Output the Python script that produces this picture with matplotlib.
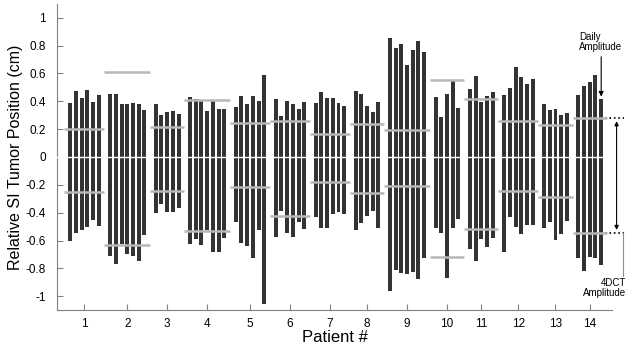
import matplotlib
matplotlib.use("Agg")
import matplotlib.pyplot as plt
import numpy as np

plt.rcParams['font.family'] = ['Liberation Sans', 'DejaVu Sans']

patients = list(range(1, 15))
daily_max = [
    [0.387, 0.474, 0.426, 0.484, 0.395, 0.445],
    [0.450, 0.450, 0.378, 0.383, 0.390, 0.383, 0.339],
    [0.383, 0.301, 0.323, 0.330, 0.306],
    [0.433, 0.414, 0.402, 0.330, 0.402, 0.347, 0.347],
    [0.359, 0.436, 0.378, 0.436, 0.402, 0.587],
    [0.416, 0.294, 0.402, 0.383, 0.347, 0.397],
    [0.387, 0.469, 0.426, 0.426, 0.387, 0.366],
    [0.474, 0.452, 0.366, 0.323, 0.397],
    [0.852, 0.785, 0.811, 0.664, 0.768, 0.835, 0.751],
    [0.433, 0.286, 0.452, 0.549, 0.354],
    [0.491, 0.585, 0.395, 0.436, 0.464],
    [0.448, 0.496, 0.645, 0.573, 0.522, 0.558],
    [0.383, 0.339, 0.342, 0.301, 0.313],
    [0.448, 0.510, 0.542, 0.592, 0.414],
]
daily_min = [
    [-0.606, -0.544, -0.527, -0.505, -0.455, -0.496],
    [-0.712, -0.770, -0.626, -0.698, -0.712, -0.746, -0.561],
    [-0.404, -0.337, -0.397, -0.392, -0.363],
    [-0.628, -0.587, -0.633, -0.525, -0.686, -0.684, -0.582],
    [-0.469, -0.616, -0.640, -0.724, -0.525, -1.059],
    [-0.578, -0.390, -0.549, -0.573, -0.469, -0.517],
    [-0.431, -0.508, -0.513, -0.412, -0.397, -0.409],
    [-0.525, -0.472, -0.424, -0.385, -0.513],
    [-0.965, -0.809, -0.833, -0.838, -0.826, -0.874, -0.729],
    [-0.513, -0.544, -0.869, -0.513, -0.445],
    [-0.659, -0.749, -0.592, -0.650, -0.580],
    [-0.686, -0.428, -0.501, -0.554, -0.489, -0.489],
    [-0.513, -0.469, -0.597, -0.554, -0.457],
    [-0.724, -0.818, -0.717, -0.724, -0.773],
]
ct_max = [0.200, 0.611, 0.214, 0.409, 0.241, 0.258, 0.166, 0.236, 0.197, 0.556, 0.414, 0.258, 0.231, 0.277]
ct_min = [-0.250, -0.633, -0.243, -0.529, -0.214, -0.424, -0.183, -0.258, -0.207, -0.722, -0.515, -0.243, -0.286, -0.544]

fig = plt.figure(figsize=(6.38, 3.52), dpi=100)
ax = fig.add_axes([0.0893, 0.119, 0.870, 0.870])

bar_color = '#333333'
ct_color = '#b8b8b8'
spine_color = '#808080'

centers = []
pos = 1
for i, p in enumerate(patients):
    n = len(daily_max[i])
    xs = np.arange(pos, pos + n)
    tops = np.array(daily_max[i])
    bots = np.array(daily_min[i])
    ax.bar(xs, tops - bots, bottom=bots, width=0.7, color=bar_color, zorder=2)
    ax.hlines([ct_max[i], ct_min[i]], xs[0] - 1, xs[-1] + 1, color=ct_color, lw=1.8, zorder=3)
    centers.append(xs.mean())
    last_x = xs[-1]
    pos += n + 1

ax.axhline(0, color='white', lw=1.0, zorder=4)

ax.set_xlim(-1.3, 95.9)
ax.set_ylim(-1.1, 1.1)
ax.set_xticks(centers)
ax.set_xticklabels([str(p) for p in patients])
ax.set_yticks([1, 0.8, 0.6, 0.4, 0.2, 0, -0.2, -0.4, -0.6, -0.8, -1])
ax.set_yticklabels(['1', '0.8', '0.6', '0.4', '0.2', '0', '-0.2', '-0.4', '-0.6', '-0.8', '-1'])
ax.tick_params(direction='in', length=4, color=spine_color, labelsize=8.5, width=0.8)
ax.tick_params(axis='x', pad=6)
ax.tick_params(axis='y', pad=8)
for s in ['top', 'right']:
    ax.spines[s].set_visible(False)
for s in ['left', 'bottom']:
    ax.spines[s].set_color(spine_color)
    ax.spines[s].set_linewidth(0.8)

ax.set_xlabel('Patient #', fontsize=12, labelpad=0)
ax.set_ylabel('Relative SI Tumor Position (cm)', fontsize=11.5, labelpad=2)

# Annotations
last_top = daily_max[-1][-1]
ax.annotate('', xy=(last_x, last_top), xytext=(last_x, 0.74),
            arrowprops=dict(arrowstyle='-|>', color='black', lw=0.8, mutation_scale=7),
            annotation_clip=False)
ax.text(90.2, 0.755, 'Daily\nAmplitude', fontsize=7, ha='left', va='bottom', linespacing=1.0)

ax.plot([94.7, 98.0], [ct_max[-1], ct_max[-1]], color='black', ls=':', lw=1.2, clip_on=False)
ax.plot([94.7, 98.0], [ct_min[-1], ct_min[-1]], color='black', ls=':', lw=1.2, clip_on=False)
ax.annotate('', xy=(96.7, ct_min[-1]), xytext=(96.7, ct_max[-1]),
            arrowprops=dict(arrowstyle='<|-|>', color='black', lw=0.8, mutation_scale=6),
            annotation_clip=False)
ax.plot([97.8, 97.8], [ct_min[-1], -0.857], color='#909090', lw=0.8, clip_on=False)
ax.text(98.3, -0.872, '4DCT\nAmplitude', fontsize=7, ha='right', va='top', linespacing=1.0)

fig.savefig('out.png', dpi=100)
